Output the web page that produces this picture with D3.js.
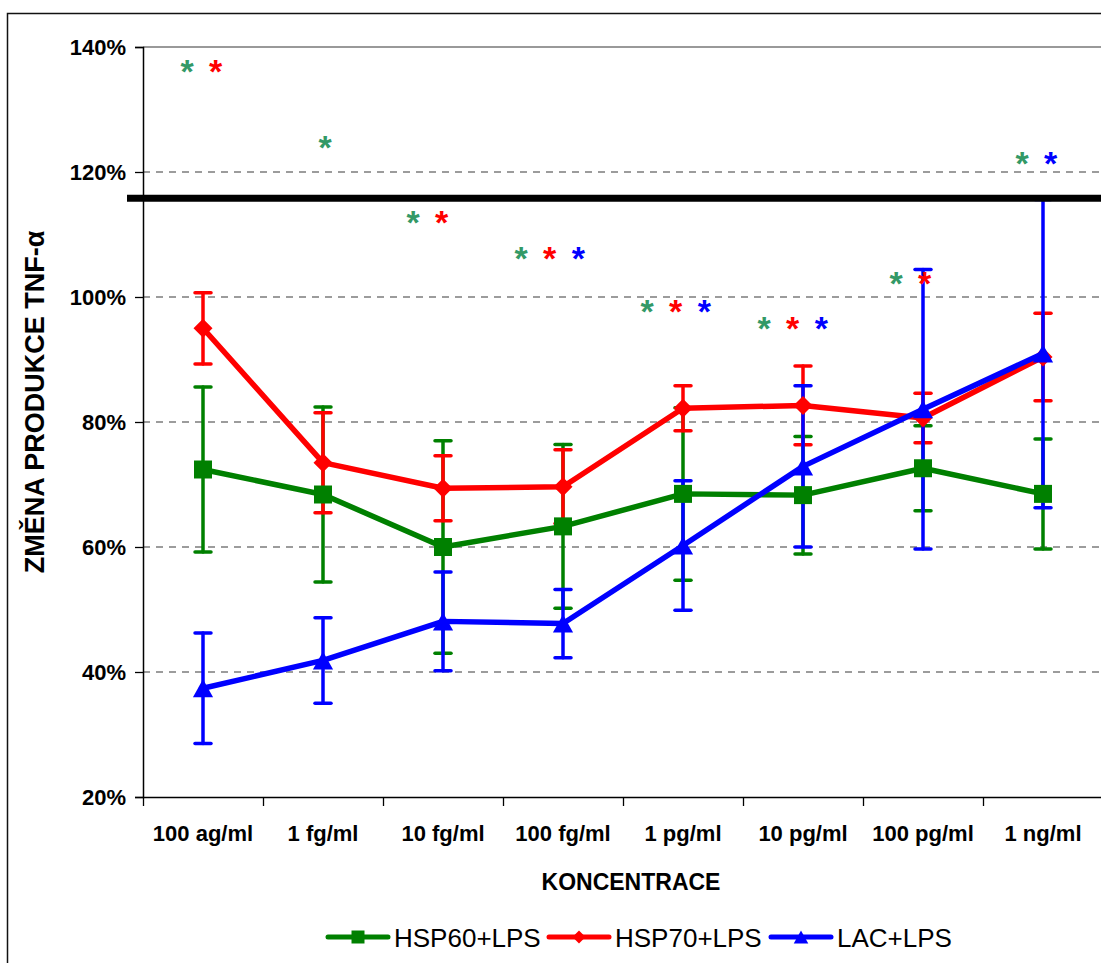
<!DOCTYPE html>
<html>
<head>
<meta charset="utf-8">
<script src="https://cdn.jsdelivr.net/npm/d3@7"></script>
<style>
  html, body { margin: 0; padding: 0; background: #fff; }
  svg { display: block; font-family: Arial, "Liberation Sans", sans-serif; }
</style>
</head>
<body>
<svg id="chart" width="1101" height="963"></svg>
<script>
// Concentrations on the category axis
const categories = ["100 ag/ml", "1 fg/ml", "10 fg/ml", "100 fg/ml", "1 pg/ml", "10 pg/ml", "100 pg/ml", "1 ng/ml"];

// Change of TNF-alpha production (%), means and error half-widths
const hsp60 = [72.4, 68.4, 60.0, 63.3, 68.5, 68.3, 72.6, 68.5];
const hsp60Err = [13.2, 14.0, 17.0, 13.1, 13.8, 9.4, 6.8, 8.8];
const hsp70 = [95.0, 73.5, 69.4, 69.65, 82.2, 82.65, 80.65, 90.4];
const hsp70Err = [5.7, 8.0, 5.2, 5.9, 3.6, 6.3, 3.95, 7.0];
const lac = [37.4, 41.85, 48.1, 47.75, 60.25, 72.9, 82.05, 90.95];
const lacErr = [8.85, 6.85, 7.9, 5.45, 10.35, 12.9, 22.35, 24.65];

// Series names and colours
const seriesNames = ["HSP60+LPS", "HSP70+LPS", "LAC+LPS"];
const seriesColors = ["#008000", "#FF0000", "#0000FF"];
const starColors = ["#339966", "#FF0000", "#0000FF"];

// Y axis ticks (%)
const yTicks = [20, 40, 60, 80, 100, 120, 140];

// Control level drawn as the heavy horizontal line (%)
const controlLevel = 115.8;

// Significance asterisks: height (%) and which series are marked per concentration
const starLevel = [137.0, 124.8, 112.8, 107.1, 98.6, 95.9, 103.0, 122.3];
const starMarks = [[0, 1], [0], [0, 1], [0, 1, 2], [0, 1, 2], [0, 1, 2], [0, 1], [0, 2]];
// horizontal placement of each asterisk group relative to the category centre (px)
const starShift = [-16, 2, -30, -42, -36, -39, -27, -21];

const svg = d3.select("#chart");
const W = 1101;

const plot = { left: 143, top: 47, right: 1103, bottom: 797 };
const y = d3.scaleLinear().domain([20, 140]).range([plot.bottom, plot.top]);
const x = d3.scaleBand().domain(categories).range([plot.left, plot.right]);
const cx = c => x(c) + x.bandwidth() / 2;
const edges = d3.scaleLinear().domain([0, categories.length]).range([plot.left, plot.right]);

// outer chart frame
svg.append("rect")
  .attr("x", 7.5).attr("y", 13.5).attr("width", 1300).attr("height", 1100)
  .attr("fill", "#fff").attr("stroke", "#111").attr("stroke-width", 1.5);

// gridlines
svg.append("g").selectAll("line")
  .data(yTicks.filter(t => t > 20 && t < 140))
  .join("line")
  .attr("x1", plot.left).attr("x2", plot.right)
  .attr("y1", d => y(d)).attr("y2", d => y(d))
  .attr("stroke", "#3a3a3a").attr("stroke-width", 1.2)
  .attr("stroke-dasharray", "7,6");

// plot area border (top)
svg.append("line")
  .attr("x1", plot.left).attr("x2", plot.right)
  .attr("y1", y(140)).attr("y2", y(140))
  .attr("stroke", "#999").attr("stroke-width", 2);

// Y axis
const yAxis = svg.append("g")
  .attr("transform", `translate(${plot.left},0)`)
  .call(d3.axisLeft(y).tickValues(yTicks).tickFormat(d => d + "%").tickSize(8).tickPadding(9));
yAxis.select(".domain").attr("stroke", "#000").attr("stroke-width", 1.5);
yAxis.selectAll(".tick line").attr("stroke", "#000").attr("stroke-width", 1.3);
yAxis.selectAll("text")
  .attr("font-size", 22).attr("font-weight", "bold").attr("fill", "#000")
  .attr("font-family", "Arial, 'Liberation Sans', sans-serif");

// X axis: boundary ticks
const xTicksAxis = svg.append("g")
  .attr("transform", `translate(0,${plot.bottom})`)
  .call(d3.axisBottom(edges).tickValues(d3.range(categories.length + 1)).tickFormat("").tickSize(9).tickSizeOuter(0));
xTicksAxis.select(".domain").attr("stroke", "#000").attr("stroke-width", 1.5);
xTicksAxis.selectAll(".tick line").attr("stroke", "#000").attr("stroke-width", 1.3);

// X axis: category labels
const xLabels = svg.append("g")
  .attr("transform", `translate(0,${plot.bottom})`)
  .call(d3.axisBottom(x).tickSize(0).tickPadding(28));
xLabels.select(".domain").remove();
xLabels.selectAll("text")
  .attr("font-size", 22).attr("font-weight", "bold").attr("fill", "#000")
  .attr("font-family", "Arial, 'Liberation Sans', sans-serif");

// axis titles
svg.append("text")
  .attr("x", 631).attr("y", 890)
  .attr("text-anchor", "middle")
  .attr("font-size", 23).attr("font-weight", "bold")
  .text("KONCENTRACE");

svg.append("text")
  .attr("transform", "translate(44,402) rotate(-90)")
  .attr("text-anchor", "middle")
  .attr("font-size", 27).attr("font-weight", "bold")
  .text("ZMĚNA PRODUKCE TNF-α");

// series
const series = [
  { values: hsp60, err: hsp60Err, shape: "square" },
  { values: hsp70, err: hsp70Err, shape: "diamond" },
  { values: lac, err: lacErr, shape: "triangle" }
].map((s, i) => ({ ...s, name: seriesNames[i], color: seriesColors[i] }));

// error bars first
series.forEach(s => {
  const g = svg.append("g")
    .attr("stroke", s.color).attr("stroke-width", 3.5).attr("stroke-linecap", "round");
  categories.forEach((c, i) => {
    const xc = cx(c), hi = y(s.values[i] + s.err[i]), lo = y(s.values[i] - s.err[i]);
    g.append("line").attr("x1", xc).attr("x2", xc).attr("y1", hi).attr("y2", lo);
    g.append("line").attr("x1", xc - 8).attr("x2", xc + 8).attr("y1", hi).attr("y2", hi);
    g.append("line").attr("x1", xc - 8).attr("x2", xc + 8).attr("y1", lo).attr("y2", lo);
  });
});

function markerPath(shape, size) {
  const h = size / 2;
  if (shape === "square") return `M${-h},${-h}H${h}V${h}H${-h}Z`;
  if (shape === "diamond") return `M0,${-h}L${h},0L0,${h}L${-h},0Z`;
  const w = size * 0.56, t = size * 0.5;
  return `M0,${-t}L${w},${t}L${-w},${t}Z`;
}
const markerSize = { square: 18, diamond: 19, triangle: 18 };

const line = d3.line().x((d, i) => cx(categories[i])).y(d => y(d));
series.forEach(s => {
  svg.append("path")
    .attr("d", line(s.values))
    .attr("fill", "none").attr("stroke", s.color)
    .attr("stroke-width", 5.5).attr("stroke-linejoin", "round");
  svg.append("g").selectAll("path")
    .data(s.values)
    .join("path")
    .attr("transform", (d, i) => `translate(${cx(categories[i])},${y(d)})`)
    .attr("d", markerPath(s.shape, markerSize[s.shape]))
    .attr("fill", s.color);
});

// control level line
svg.append("line")
  .attr("x1", plot.left - 16).attr("x2", W + 10)
  .attr("y1", y(controlLevel)).attr("y2", y(controlLevel))
  .attr("stroke", "#000").attr("stroke-width", 7);

// significance asterisks
const starSize = 34;
categories.forEach((c, i) => {
  starMarks[i].forEach((k, j) => {
    svg.append("text")
      .attr("x", cx(c) + starShift[i] + j * 28.7)
      .attr("y", y(starLevel[i]) + starSize * 0.5)
      .attr("text-anchor", "middle")
      .attr("font-size", starSize).attr("font-weight", "bold")
      .attr("fill", starColors[k])
      .text("*");
  });
});

// legend
const legendX = [328, 549, 771];
const legendY = 937;
series.forEach((s, i) => {
  const g = svg.append("g").attr("transform", `translate(${legendX[i]},${legendY})`);
  g.append("line").attr("x1", 0).attr("x2", 60).attr("y1", 0).attr("y2", 0)
    .attr("stroke", s.color).attr("stroke-width", 5).attr("stroke-linecap", "round");
  g.append("path").attr("transform", "translate(30,0)")
    .attr("d", markerPath(s.shape, 13)).attr("fill", s.color);
  g.append("text").attr("x", 66).attr("y", 10)
    .attr("font-size", 26).attr("fill", "#000")
    .text(s.name);
});
</script>
</body>
</html>
